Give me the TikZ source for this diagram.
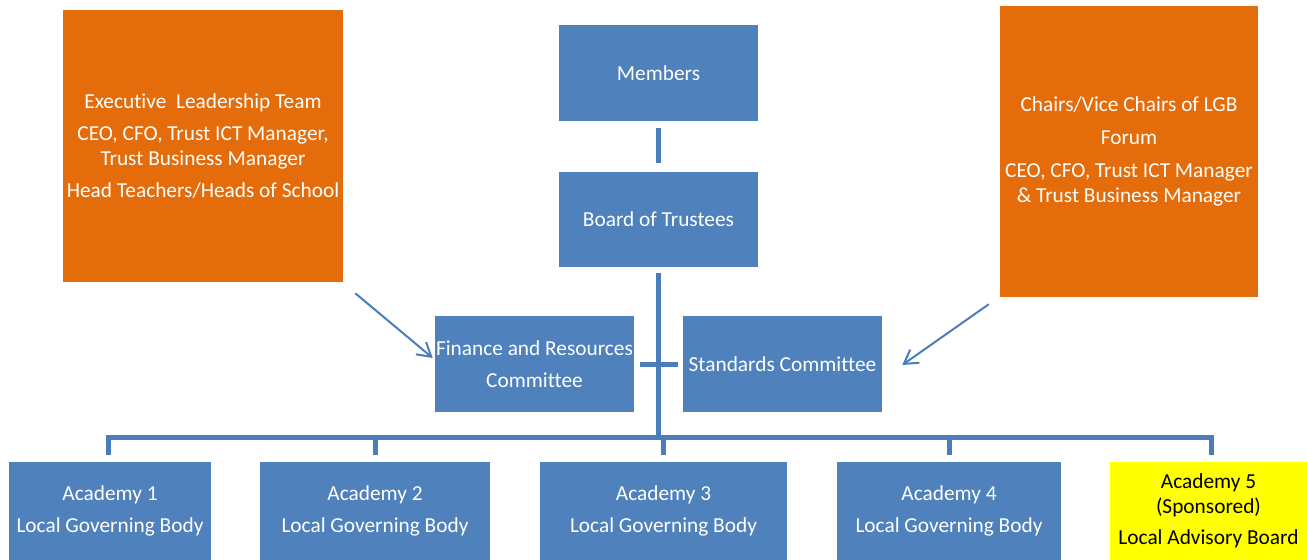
\documentclass[tikz,border=0pt]{standalone}
\usepackage{fontspec}
\setmainfont{Carlito}[Ligatures=NoCommon]
\usetikzlibrary{calc,arrows.meta}
\definecolor{boxblue}{HTML}{4F81BD}
\definecolor{lineblue}{HTML}{4A7EBB}
\definecolor{boxorange}{HTML}{E46C0A}
\definecolor{boxyellow}{HTML}{FFFF00}
\tikzset{
  box/.style={rectangle, inner sep=0pt, align=center, text=white,
    font=\fontsize{16}{18.75}\selectfont},
  bluebox/.style={box, fill=boxblue},
  orangebox/.style={box, fill=boxorange},
  yellowbox/.style={box, fill=boxyellow, text=black},
  conn/.style={draw=lineblue, line width=3.75pt},
  pointer/.style={draw=lineblue, line width=1.5pt, -{Straight Barb[length=10pt,width=12pt,line width=1.5pt]}},
}
\begin{document}
\begin{tikzpicture}[x=0.75pt,y=-0.75pt]
\useasboundingbox (0,0) rectangle (1307,560);
% top
\node[bluebox, minimum width=149.25pt, minimum height=72pt] (members) at (658.5,73) {Members};
\node[bluebox, minimum width=149.25pt, minimum height=71.25pt] (board) at (658.5,219.5) {Board of Trustees};
\node[orangebox, minimum width=210pt, minimum height=204pt] (elt) at (203,146)
  {Executive\ \ Leadership Team\\[5.5pt]CEO, CFO, Trust ICT Manager,\\Trust Business Manager\\[5.5pt]Head Teachers/Heads of School};
\node[orangebox, minimum width=193.5pt, minimum height=218.25pt] (chairs) at (1129,151.5)
  {Chairs/Vice Chairs of LGB\\[6pt]Forum\\[6.5pt]CEO, CFO, Trust ICT Manager\\\& Trust Business Manager};
% committees
\node[bluebox, minimum width=149.25pt, minimum height=72pt] (fin) at (534.5,364) {Finance and Resources\\[5pt]Committee};
\node[bluebox, minimum width=149.25pt, minimum height=72pt] (std) at (782.5,364) {Standards Committee};
% academies
\node[bluebox, minimum width=151.5pt, minimum height=73.5pt] (a1) at (110,511) {Academy 1\\[5.5pt]Local Governing Body};
\node[bluebox, minimum width=172.5pt, minimum height=73.5pt] (a2) at (375,511) {Academy 2\\[5.5pt]Local Governing Body};
\node[bluebox, minimum width=185.25pt, minimum height=73.5pt] (a3) at (663.5,511) {Academy 3\\[5.5pt]Local Governing Body};
\node[bluebox, minimum width=168pt, minimum height=73.5pt] (a4) at (949,511) {Academy 4\\[5.5pt]Local Governing Body};
\node[yellowbox, minimum width=147.75pt, minimum height=73.5pt] (a5) at (1208.5,511) {Academy 5\\(Sponsored)\\[4.5pt]Local Advisory Board};
% connectors
\coordinate (bar) at (658.5,437);
\draw[conn] ($(members.south)+(0,7)$) -- ($(board.north)+(0,-9)$);
\draw[conn] ($(board.south)+(0,6)$) -- (bar);
\draw[conn] ($(fin.east)+(6,0)$) -- ($(std.west)+(-5,0)$);
\draw[conn] ($(a1.north)+(-2,-7)$) |- (bar) -| ($(a5.north)+(2.5,-7)$);
\draw[conn] ($(a2.north)+(0,-7)$) -- (a2.north |- bar);
\draw[conn] ($(a3.north)+(0,-7)$) -- (a3.north |- bar);
\draw[conn] ($(a4.north)+(0,-7)$) -- (a4.north |- bar);
% arrows
\draw[pointer] ($(elt.south east)+(12,11)$) -- ($(fin.west)+(-2,-6)$);
\draw[pointer] ($(chairs.south west)+(-11,7)$) -- ($(std.east)+(20,1)$);
\end{tikzpicture}
\end{document}
